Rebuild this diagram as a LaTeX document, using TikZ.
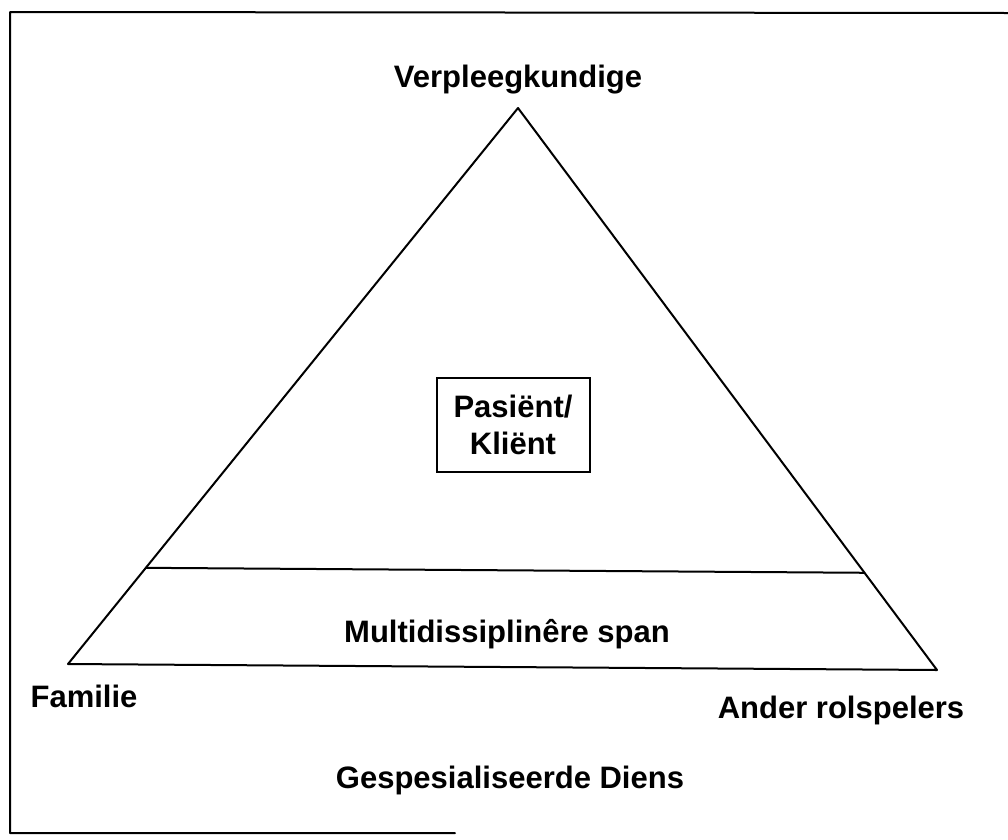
\documentclass[tikz,border=0pt]{standalone}
\usepackage{fontspec}
\setmainfont{Liberation Sans}
\usetikzlibrary{calc}
\begin{document}
\begin{tikzpicture}[x=1pt,y=-1pt,
  edge/.style={line width=2pt,line cap=round,line join=round},
  label/.style={font=\bfseries\fontsize{31}{37}\selectfont,anchor=base,inner sep=0pt},
  centrebox/.style={draw,line width=2pt,minimum width=153pt,minimum height=94pt,
    align=center,font=\bfseries\fontsize{31}{37}\selectfont,inner sep=0pt}]
\useasboundingbox (0,0) rectangle (1008,839);
% outer frame (top, left and part of the bottom)
\draw[edge] (1008,13) -- (10,12) -- (10,833) -- (455,833);
% triangle corners
\coordinate (apex) at (518,108);
\coordinate (bl) at (68,664);
\coordinate (br) at (937,670);
\draw[edge] (apex) -- (bl) -- (br) -- cycle;
% band for the multidisciplinary team
\coordinate (ml) at ($(apex)!0.827!(bl)$);
\coordinate (mr) at ($(apex)!0.827!(br)$);
\draw[edge] (ml) -- (mr);
% centre box
\node[centrebox] (client) at (513,425) {Pasiënt/\\Kliënt};
% labels
\node[label] (nurse) at (518,87) {Verpleegkundige};
\node[label] (team) at (507,642) {Multidissiplinêre span};
\node[label] (family) at (84,707) {Familie};
\node[label] (others) at (841,718) {Ander rolspelers};
\node[label] (service) at (510,788) {Gespesialiseerde Diens};
\end{tikzpicture}
\end{document}
